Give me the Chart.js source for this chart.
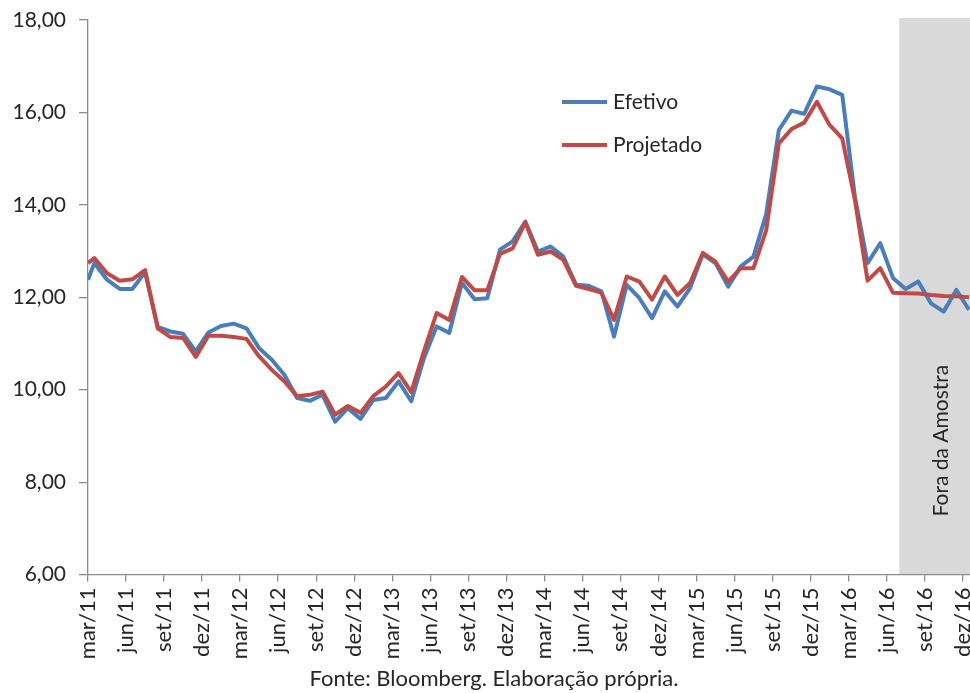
<!DOCTYPE html>
<html><head><meta charset="utf-8">
<script src="https://cdn.jsdelivr.net/npm/chart.js@4.4.0/dist/chart.umd.min.js"></script>
<style>
html,body{margin:0;padding:0;overflow:hidden;background:#fff;width:970px;height:693px}
#wrap{width:1000px;height:693px}
</style></head>
<body><div id="wrap"><canvas id="c" width="1000" height="693"></canvas></div>
<script>
const meses = [
 'mar/11','abr/11','mai/11','jun/11','jul/11','ago/11','set/11','out/11','nov/11','dez/11',
 'jan/12','fev/12','mar/12','abr/12','mai/12','jun/12','jul/12','ago/12','set/12','out/12','nov/12','dez/12',
 'jan/13','fev/13','mar/13','abr/13','mai/13','jun/13','jul/13','ago/13','set/13','out/13','nov/13','dez/13',
 'jan/14','fev/14','mar/14','abr/14','mai/14','jun/14','jul/14','ago/14','set/14','out/14','nov/14','dez/14',
 'jan/15','fev/15','mar/15','abr/15','mai/15','jun/15','jul/15','ago/15','set/15','out/15','nov/15','dez/15',
 'jan/16','fev/16','mar/16','abr/16','mai/16','jun/16','jul/16','ago/16','set/16','out/16','nov/16','dez/16'
];
const efetivo = [
 12.74,12.38,12.18,12.18,12.54,11.36,11.26,11.21,10.83,11.24,
 11.38,11.43,11.33,10.90,10.65,10.32,9.82,9.76,9.89,9.31,9.60,9.37,
 9.78,9.82,10.18,9.75,10.68,11.37,11.23,12.31,11.96,11.98,13.03,13.21,
 13.64,12.99,13.10,12.88,12.27,12.25,12.13,11.15,12.27,11.98,11.55,12.13,
 11.80,12.20,12.93,12.74,12.23,12.67,12.88,13.80,15.62,16.04,15.97,16.56,
 16.50,16.38,14.18,12.74,13.17,12.42,12.18,12.34,11.87,11.69,12.16,11.73
];
const projetado = [
 12.85,12.52,12.36,12.39,12.59,11.33,11.14,11.12,10.71,11.17,
 11.17,11.14,11.10,10.72,10.43,10.18,9.86,9.89,9.96,9.46,9.65,9.50,
 9.86,10.07,10.36,9.95,10.83,11.66,11.51,12.44,12.15,12.15,12.94,13.06,
 13.62,12.92,12.99,12.81,12.25,12.18,12.10,11.51,12.45,12.34,11.95,12.45,
 12.05,12.31,12.96,12.77,12.34,12.63,12.63,13.45,15.33,15.64,15.78,16.23,
 15.73,15.44,14.11,12.36,12.63,12.10,12.09,12.08,12.05,12.03,12.02,12.00
];
// first observation, at the very start of the axis (before the mar/11 mid-month point)
const inicioEfetivo = 12.38;
const inicioProjetado = 12.74;
const yMin = 6, yMax = 18, yStep = 2;
const inicioForaAmostra = 'jul/16';
const textoForaAmostra = 'Fora da Amostra';
const fonteTexto = 'Fonte: Bloomberg. Elaboração própria.';
const nomesSeries = ['Efetivo', 'Projetado'];

const FONT = 'Lato';
const TXT = '#262626';

function pontos(inicio, vals){
  return [{x:0, y:inicio}].concat(vals.map((v,i)=>({x:i+0.5, y:v})));
}

const foraAmostra = {
  id:'foraAmostra',
  beforeDraw(chart){
    const {ctx, chartArea, scales:{x,y}} = chart;
    const x0 = x.getPixelForValue(meses.indexOf(inicioForaAmostra));
    const yt = y.getPixelForValue(yMax), yb = y.getPixelForValue(yMin);
    ctx.save();
    ctx.fillStyle = '#d9d9d9';
    ctx.fillRect(x0, yt - 2, chartArea.right - x0, yb - yt + 2);
    ctx.translate(x.getPixelForValue(67.3), y.getPixelForValue(8.9));
    ctx.rotate(-Math.PI/2);
    ctx.font = '21px ' + FONT;
    ctx.fillStyle = TXT;
    ctx.textAlign = 'center';
    ctx.textBaseline = 'middle';
    ctx.fillText(textoForaAmostra, 0, 0);
    ctx.restore();
  }
};

const legenda = {
  id:'legenda',
  afterDatasetsDraw(chart){
    const {ctx} = chart;
    const rows = [102, 145];
    ctx.save();
    chart.data.datasets.forEach((ds,i)=>{
      const yy = rows[i];
      ctx.strokeStyle = ds.borderColor;
      ctx.lineWidth = 4;
      ctx.beginPath(); ctx.moveTo(562, yy); ctx.lineTo(607, yy); ctx.stroke();
      ctx.font = '21px ' + FONT;
      ctx.fillStyle = TXT;
      ctx.textAlign = 'left';
      ctx.textBaseline = 'middle';
      ctx.fillText(ds.label, 613, yy);
    });
    ctx.restore();
  }
};

new Chart(document.getElementById('c'), {
  type:'line',
  data:{
    datasets:[
      {label:nomesSeries[0], data:pontos(inicioEfetivo, efetivo), borderColor:'#4a7ebb', borderWidth:4, pointRadius:0, tension:0, borderJoinStyle:'round', order:2},
      {label:nomesSeries[1], data:pontos(inicioProjetado, projetado), borderColor:'#be4b48', borderWidth:4, pointRadius:0, tension:0, borderJoinStyle:'round', order:1}
    ]
  },
  options:{
    responsive:false,
    animation:false,
    devicePixelRatio:1,
    layout:{padding:{top:20, right:12, left:0, bottom:0}},
    plugins:{
      legend:{display:false},
      tooltip:{enabled:false},
      title:{display:true, position:'bottom', text:fonteTexto, color:TXT,
        font:{family:FONT, size:22, weight:'normal'}, padding:{top:0, bottom:1}}
    },
    scales:{
      x:{
        type:'linear', min:0, max:71,
        afterFit(s){ s.height = 91; s.paddingLeft = 0; s.paddingRight = 0; },
        border:{display:true, color:'#8c8c8c', width:1.3},
        grid:{display:true, drawOnChartArea:false, drawTicks:true, tickLength:7, color:'#8c8c8c', lineWidth:1.3},
        ticks:{stepSize:3, autoSkip:false, includeBounds:false, minRotation:90, maxRotation:90, padding:6,
          color:TXT, font:{family:FONT, size:22},
          callback:(v)=> (Number.isInteger(v) && v%3===0 && meses[v]) ? meses[v] : ''}
      },
      y:{
        min:yMin, max:yMax,
        afterFit(s){ s.width = 88; s.paddingTop = 0; s.paddingBottom = 0; },
        border:{display:true, color:'#8c8c8c', width:1.3},
        grid:{display:true, drawOnChartArea:false, drawTicks:true, tickLength:9, color:'#8c8c8c', lineWidth:1.3},
        ticks:{stepSize:yStep, padding:13, color:TXT, font:{family:FONT, size:21},
          callback:(v)=> v.toFixed(2).replace('.', ',')}
      }
    }
  },
  plugins:[foraAmostra, legenda]
});
</script>
</body></html>
